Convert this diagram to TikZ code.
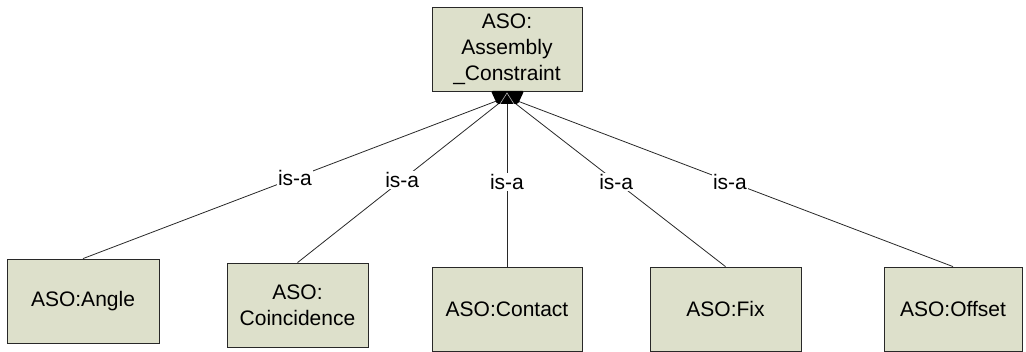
\documentclass[tikz,border=0pt]{standalone}
\usepackage{fontspec}
\setmainfont{Liberation Sans}
\definecolor{boxfill}{RGB}{221,224,203}
\definecolor{edgegray}{RGB}{40,40,40}
\begin{document}
\begin{tikzpicture}[x=1pt,y=-1pt,
  cls/.style={draw=edgegray, fill=boxfill, line width=0.8pt, minimum height=84pt,
              inner sep=0pt, align=center, font=\fontsize{21}{26}\selectfont},
  isa/.style={draw=edgegray, line width=0.8pt},
  lbl/.style={fill=white, inner sep=1.5pt, font=\fontsize{21}{26}\selectfont}]
\useasboundingbox (0,0) rectangle (1026,352);

% subclasses
\node[cls, minimum width=152pt] (angle)  at (83,301)    {ASO:Angle};
\node[cls, minimum width=141pt] (coinc)  at (297.5,305) {ASO:\\Coincidence};
\node[cls, minimum width=150pt] (contact) at (507,309)  {ASO:Contact};
\node[cls, minimum width=151pt] (fix)    at (725.5,309) {ASO:Fix};
\node[cls, minimum width=138pt] (offset) at (953,309)   {ASO:Offset};

% convergence point of the generalisation lines
\coordinate (hub) at (507,97);

% is-a links
\foreach \c in {angle,coinc,contact,fix,offset}
  \draw[isa] (hub) -- node[lbl, midway] {is-a} (\c.north);

% superclass
\node[cls, minimum width=150pt] (top) at (507,49) {ASO:\\Assembly\\\_Constraint};

% generalisation marker below the superclass
\fill[black, rounded corners=1.5pt] (491,91) -- (524,91) -- (518,104) -- (497,104) -- cycle;
\draw[gray!55, line width=0.6pt] (500,104) -- (507,93) -- (514,104);
\end{tikzpicture}
\end{document}
